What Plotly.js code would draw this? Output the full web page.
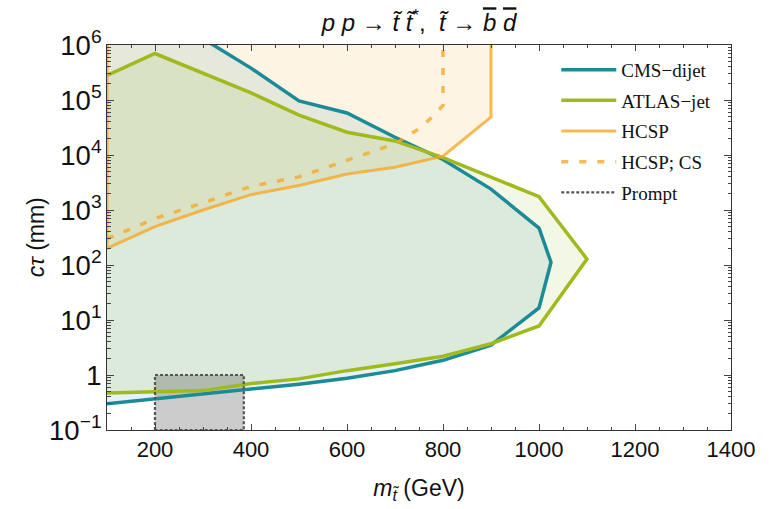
<!DOCTYPE html>
<html>
<head>
<meta charset="utf-8">
<script src="https://cdn.plot.ly/plotly-3.0.1.min.js"></script>
<style>html,body{margin:0;padding:0;background:#fff;}#chart{width:773px;height:509px;}</style>
</head>
<body>
<div id="chart"></div>
<script>
// ---- data ----
const xRange = [100, 1400];
const yRangeLog = [-1, 6];

// CMS-dijet exclusion contour (upper branch then lower branch)
const cmsX = [300, 400, 500, 600, 700, 800, 900, 1000, 1025, 1000, 900, 800, 700, 600, 500, 400, 300, 200, 100];
const cmsY = [1.3e6, 3.8e5, 9.6e4, 5.8e4, 2.1e4, 8.3e3, 2.4e3, 470, 112, 16.6, 3.5, 1.85, 1.2, 0.87, 0.68, 0.55, 0.45, 0.37, 0.3];

// ATLAS-jet exclusion contour
const atlasX = [100, 200, 400, 500, 600, 700, 800, 900, 1000, 1100, 1000, 900, 800, 700, 600, 500, 400, 300, 200, 100];
const atlasY = [2.8e5, 7e5, 1.35e5, 5.3e4, 2.6e4, 1.8e4, 9e3, 4e3, 1.75e3, 128, 7.8, 3.7, 2.2, 1.6, 1.2, 0.85, 0.7, 0.52, 0.49, 0.47];

// HCSP exclusion boundary
const hcspX = [100, 100, 200, 300, 400, 500, 600, 700, 800, 900, 900];
const hcspY = [1e6, 200, 500, 1e3, 1.9e3, 2.8e3, 4.5e3, 6e3, 9.5e3, 4.9e4, 1e6];

// HCSP; CS boundary
const hcspCsX = [100, 200, 300, 400, 500, 600, 700, 750, 775, 800, 800];
const hcspCsY = [300, 700, 1.35e3, 2.7e3, 4e3, 8e3, 1.6e4, 3e4, 4.7e4, 8e4, 1e6];

// Prompt search region
const promptX = [200, 385];
const promptY = [0.1, 1];

const legendNames = ['CMS\u2212dijet', 'ATLAS\u2212jet', 'HCSP', 'HCSP; CS', 'Prompt'];

// ---- build traces ----
const topOut = Math.pow(10, yRangeLog[1] + 0.5);
const cmsFillX = [xRange[0]].concat(cmsX);
const cmsFillY = [topOut].concat(cmsY);

const boxX = [promptX[0], promptX[0], promptX[1], promptX[1], promptX[0]];
const boxY = [promptY[0], promptY[1], promptY[1], promptY[0], promptY[0]];

const teal = '#1b8b97';
const green = '#a0ba1e';
const orange = 'rgba(246,166,35,0.78)';

const traces = [
  {x: hcspX, y: hcspY, mode: 'lines', fill: 'toself', fillcolor: 'rgba(245,166,35,0.12)',
   line: {width: 0}, hoverinfo: 'skip', showlegend: false},
  {x: atlasX, y: atlasY, mode: 'lines', fill: 'toself', fillcolor: 'rgba(160,190,40,0.12)',
   line: {width: 0}, hoverinfo: 'skip', showlegend: false},
  {x: cmsFillX, y: cmsFillY, mode: 'lines', fill: 'toself', fillcolor: 'rgba(26,138,150,0.11)',
   line: {width: 0}, hoverinfo: 'skip', showlegend: false},
  {x: boxX, y: boxY, mode: 'lines', fill: 'toself', fillcolor: 'rgba(0,0,0,0.2)',
   line: {width: 0}, hoverinfo: 'skip', showlegend: false},

  {x: cmsX, y: cmsY, mode: 'lines', name: legendNames[0], legendgroup: 'a',
   line: {color: teal, width: 3.5}},
  {x: atlasX, y: atlasY, mode: 'lines', name: legendNames[1], legendgroup: 'b',
   line: {color: green, width: 3.5}},
  {x: hcspX, y: hcspY, mode: 'lines', name: legendNames[2], legendgroup: 'c',
   line: {color: orange, width: 3}},
  {x: hcspCsX, y: hcspCsY, mode: 'lines', name: legendNames[3], legendgroup: 'd',
   line: {color: orange, width: 3.5, dash: '7px,11px'}},
  {x: boxX, y: boxY, mode: 'lines', name: legendNames[4], legendgroup: 'e',
   line: {color: '#555', width: 2.2, dash: '3px,2px'}}
];

const axisFont = {family: 'Liberation Sans, Arial, sans-serif', size: 22, color: '#111'};
const ov = 'style="text-decoration:overline"';

const layout = {
  width: 773, height: 509,
  margin: {l: 107, r: 42, t: 45, b: 79},
  paper_bgcolor: '#fff', plot_bgcolor: '#fff',
  title: {
    text: '<i>p p</i> \u2192 <i>t\u0303 t\u0303</i><sup>*</sup>,  <i>t\u0303</i> \u2192 <span ' + ov + '><i>b</i></span> <span ' + ov + '><i>d</i></span>',
    font: {family: 'Liberation Sans, Arial, sans-serif', size: 24, color: '#111'},
    x: 0.5, xref: 'paper', xanchor: 'center', y: 0.955, yref: 'container', yanchor: 'middle'
  },
  xaxis: {
    range: xRange, tick0: 0, dtick: 200,
    ticks: 'inside', ticklen: 6, tickcolor: '#444', tickwidth: 1,
    showline: true, linecolor: '#333', linewidth: 1, mirror: 'allticks',
    showgrid: false, zeroline: false,
    minor: {dtick: 50, ticks: 'inside', ticklen: 3, tickcolor: '#444', showgrid: false},
    tickfont: axisFont,
    title: {text: '<i>m</i><sub><i>t\u0303</i></sub> (GeV)', font: {family: axisFont.family, size: 23, color: '#111'}, standoff: 18}
  },
  yaxis: {
    type: 'log', range: yRangeLog, dtick: 1, exponentformat: 'power',
    labelalias: {'10': '10<sup>1</sup>'},
    ticks: 'inside', ticklen: 7, tickcolor: '#444', tickwidth: 1,
    showline: true, linecolor: '#333', linewidth: 1, mirror: 'allticks',
    showgrid: false, zeroline: false,
    minor: {dtick: 'D1', ticks: 'inside', ticklen: 3.5, tickcolor: '#444', showgrid: false},
    tickfont: axisFont
  },
  annotations: [{
    text: '<i>c\u03c4</i> (mm)', textangle: -90, showarrow: false,
    xref: 'paper', yref: 'paper', x: -0.114, y: 0.5, xanchor: 'center', yanchor: 'middle',
    font: {family: axisFont.family, size: 23, color: '#111'}
  }],
  legend: {
    x: 0.72, y: 0.985, xanchor: 'left', yanchor: 'top',
    bgcolor: 'rgba(0,0,0,0)', borderwidth: 0,
    font: {family: 'Liberation Serif, Times New Roman, serif', size: 19, color: '#111'},
    itemwidth: 55, tracegroupgap: 3, traceorder: 'grouped'
  },
  showlegend: true
};

Plotly.newPlot('chart', traces, layout, {displayModeBar: false, staticPlot: true});
</script>
</body>
</html>
